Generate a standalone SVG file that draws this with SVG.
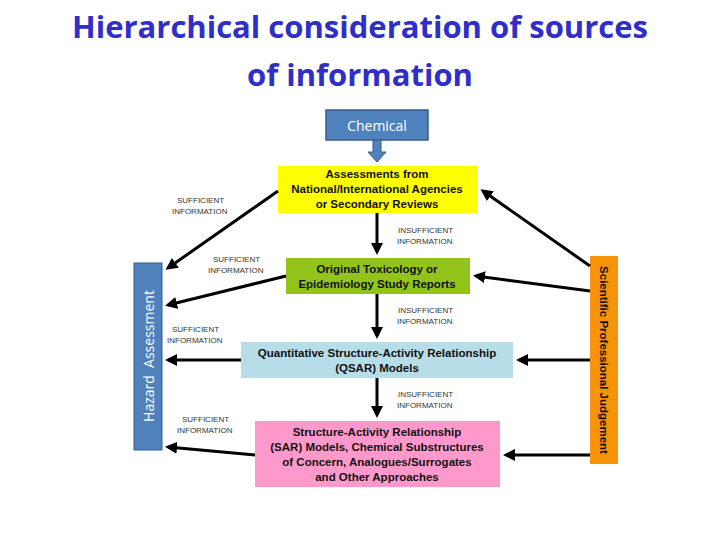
<svg xmlns="http://www.w3.org/2000/svg" width="720" height="540" viewBox="0 0 720 540">
<style>
.lbl{font-family:"Liberation Sans",Arial,sans-serif;font-size:8px;fill:#333}
.bx{font-family:"Liberation Sans",Arial,sans-serif;font-size:11.5px;font-weight:bold;fill:#111;text-anchor:middle}
.ln{stroke:#000;stroke-width:3;fill:none;marker-end:url(#ah)}
</style>
<defs><marker id="ah" markerWidth="4" markerHeight="4" refX="3" refY="2" orient="auto" markerUnits="strokeWidth"><path d="M0,0L4,2L0,4Z" fill="#000"/></marker></defs>
<rect width="720" height="540" fill="#fff"/>
<text x="360" y="38" text-anchor="middle" font-family="Open Sans,Liberation Sans,sans-serif" font-size="31" font-weight="bold" fill="#2f2fc8">Hierarchical consideration of sources</text>
<text x="360" y="86" text-anchor="middle" font-family="Open Sans,Liberation Sans,sans-serif" font-size="31" font-weight="bold" fill="#2f2fc8">of information</text>
<g id="chemical"><rect x="326" y="110" width="102" height="30" fill="#4f81bd" stroke="#385d8a" stroke-width="1.5"/><text x="377" y="131" text-anchor="middle" font-family="Open Sans,sans-serif" font-size="14" fill="#fff">Chemical</text>
<path d="M373,140h8v12h5l-9,10l-9,-10h5z" fill="#4f81bd" stroke="#385d8a"/></g>
<g id="hazard"><rect x="134" y="263" width="28" height="187" fill="#4f81bd" stroke="#385d8a"/><text transform="translate(154,356) rotate(-90)" text-anchor="middle" font-family="Open Sans,sans-serif" font-size="14" fill="#fff" xml:space="preserve">Hazard  Assessment</text></g>
<g id="spj"><rect x="590" y="256" width="28" height="208" fill="#f79308"/><text transform="translate(600,360) rotate(90)" text-anchor="middle" font-family="Liberation Sans,sans-serif" font-size="11.5" font-weight="bold" fill="#111">Scientific Professional Judgement</text></g>
<g id="assess"><rect x="278" y="166" width="199" height="47" fill="#ffff00"/><text class="bx" x="377" y="178">Assessments from</text><text class="bx" x="377" y="193">National/International Agencies</text><text class="bx" x="377" y="208">or Secondary Reviews</text></g>
<g id="orig"><rect x="286" y="258" width="184" height="36" fill="#92c41c"/><text class="bx" x="377" y="273">Original Toxicology or</text><text class="bx" x="377" y="288">Epidemiology Study Reports</text></g>
<g id="qsar"><rect x="241" y="342" width="272" height="36" fill="#b7dde8"/><text class="bx" x="377" y="357">Quantitative Structure-Activity Relationship</text><text class="bx" x="377" y="372">(QSAR) Models</text></g>
<g id="sar"><rect x="255" y="421" width="245" height="66" fill="#ff99cc"/><text class="bx" x="377" y="436">Structure-Activity Relationship</text><text class="bx" x="377" y="451">(SAR) Models, Chemical Substructures</text><text class="bx" x="377" y="466">of Concern, Analogues/Surrogates</text><text class="bx" x="377" y="481">and Other Approaches</text></g>
<g id="connectors">
<path class="ln" d="M377,213V252"/><path class="ln" d="M377,294V336"/><path class="ln" d="M377,378V415"/>
<path class="ln" d="M278,191L168,268"/><path class="ln" d="M286,276L168,305"/><path class="ln" d="M241,360H168"/><path class="ln" d="M255,455L168,447"/>
<path class="ln" d="M590,266L483,191"/><path class="ln" d="M590,291L476,276"/><path class="ln" d="M590,360H519"/><path class="ln" d="M590,455H506"/>
</g>
<g class="lbl">
<text x="177" y="203">SUFFICIENT</text><text x="172" y="214">INFORMATION</text>
<text x="213" y="262">SUFFICIENT</text><text x="208" y="273">INFORMATION</text>
<text x="172" y="332">SUFFICIENT</text><text x="167" y="343">INFORMATION</text>
<text x="182" y="422">SUFFICIENT</text><text x="177" y="433">INFORMATION</text>
<text x="398" y="233">INSUFFICIENT</text><text x="397" y="244">INFORMATION</text>
<text x="398" y="313">INSUFFICIENT</text><text x="397" y="324">INFORMATION</text>
<text x="398" y="397">INSUFFICIENT</text><text x="397" y="408">INFORMATION</text>
</g>
</svg>
